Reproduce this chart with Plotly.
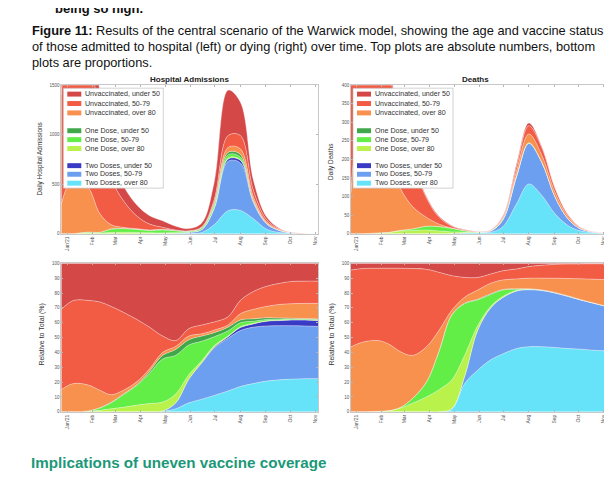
import plotly.graph_objects as go

W, H = 612, 480

# ---------------- data ----------------
DATES = ["2020-12-25", "2021-01-09", "2021-01-27", "2021-02-10", "2021-02-24",
         "2021-03-11", "2021-03-28", "2021-04-12", "2021-04-28", "2021-05-14",
         "2021-05-30", "2021-06-15", "2021-06-30", "2021-07-17", "2021-08-01",
         "2021-08-17", "2021-09-02", "2021-09-18", "2021-10-03", "2021-10-19",
         "2021-11-04"]

MONTH_TICKS = ["2021-01-01", "2021-02-01", "2021-03-01", "2021-04-01", "2021-05-01",
               "2021-06-01", "2021-07-01", "2021-08-01", "2021-09-01", "2021-10-01",
               "2021-11-01"]
MONTH_LABELS = ["Jan'21", "Feb", "Mar", "Apr", "May", "Jun", "Jul", "Aug", "Sep", "Oct", "Nov"]

# stacking order, bottom -> top
SERIES_NAMES = ["Two Doses, over 80", "Two Doses, 50-79", "Two Doses, under 50",
                "One Dose, over 80", "One Dose, 50-79", "One Dose, under 50",
                "Unvaccinated, over 80", "Unvaccinated, 50-79", "Unvaccinated, under 50"]
SERIES_COLORS = ["#66e3f9", "#6c9ff0", "#3a3bc4",
                 "#b9f24a", "#63ee47", "#40a84a",
                 "#f7914d", "#f25c45", "#d54848"]

# Daily hospital admissions (absolute)
hosp_two_o80 = [0, 0, 0, 0, 0, 0, 0, 0, 0.5, 1.5, 3, 12, 90, 232, 235, 150, 45, 11.4, 3.1, 0.9, 0.22]
hosp_two_5079 = [0, 0, 0, 0, 0, 0, 0, 0, 0.3, 3, 10, 30, 163, 500, 480, 160, 53, 19.3, 5, 1.4, 0.35]
hosp_two_u50 = [0, 0, 0, 0, 0, 0, 0, 0, 0, 0, 0, 0.2, 3, 21, 26, 12, 5.5, 1.9, 0.5, 0.16, 0.04]
hosp_one_o80 = [0, 0, 8, 5, 12, 14, 12, 8, 7, 5, 1.5, 1.5, 5, 10, 7, 2, 0.5, 0.2, 0.05, 0, 0]
hosp_one_5079 = [0, 0, 8, 8, 33, 36, 30, 24, 30, 19, 9, 14, 30, 33, 26, 6, 1.5, 0.3, 0.05, 0, 0]
hosp_one_u50 = [0, 0, 0, 1, 3, 3, 2, 2, 3, 3, 2, 4, 15, 25, 26, 8, 2, 0.4, 0.1, 0, 0]
hosp_unv_o80 = [300, 570, 450, 190, 42, 10, 5, 3, 3, 1.5, 1, 1.7, 9, 50, 57, 35, 13, 4.8, 1.4, 0.4, 0.1]
hosp_unv_5079 = [1100, 1680, 1480, 860, 470, 270, 125, 60, 20, 3, 2.5, 6.6, 29, 120, 135, 65, 23, 7.5, 2.1, 0.6, 0.15]
hosp_unv_u50 = [600, 750, 650, 380, 240, 150, 110, 85, 66, 39, 22, 40, 176, 459, 338, 102, 26.5, 7.2, 1.7, 0.5, 0.12]

# Daily deaths (absolute)
deaths_two_o80 = [0, 0, 0, 0, 0, 0, 0, 0, 0.3, 2.1, 1.7, 3.5, 18.7, 81, 134, 103, 54, 22.2, 7.6, 2.5, 0.41]
deaths_two_5079 = [0, 0, 0, 0, 0, 0, 0, 0, 0.1, 0.55, 1.6, 3.5, 18.2, 74, 109, 89, 46, 18.3, 6, 1.9, 0.3]
deaths_two_u50 = [0, 0, 0, 0, 0, 0, 0, 0, 0, 0, 0, 0, 0, 0, 0.3, 0.2, 0.1, 0.05, 0.02, 0, 0]
deaths_one_o80 = [0, 0, 2, 3, 7.5, 8, 10, 7, 4.3, 1.5, 0.2, 0.1, 0.3, 0.8, 0.6, 0.2, 0.1, 0.05, 0.02, 0, 0]
deaths_one_5079 = [0, 0, 0, 0.5, 1.5, 4.5, 10, 12.1, 9.6, 3.8, 1.05, 0.8, 2.1, 1.5, 0.6, 0.2, 0.1, 0.05, 0.02, 0, 0]
deaths_one_u50 = [0, 0, 0, 0, 0, 0.2, 0.2, 0.15, 0.07, 0.05, 0.02, 0.05, 0.2, 0.4, 0.3, 0.2, 0.1, 0.05, 0.02, 0, 0]
deaths_unv_o80 = [110, 305, 286, 200, 112, 60, 23.6, 6.8, 0.7, 0.45, 0.37, 0.7, 3.1, 12.7, 24, 18.6, 12, 6.1, 2.5, 0.95, 0.18]
deaths_unv_5079 = [320, 322, 292, 232, 169, 120, 52.2, 19, 5.1, 1.45, 0.5, 0.6, 3.0, 12.7, 22, 20.4, 11.6, 5, 1.8, 0.62, 0.11]
deaths_unv_u50 = [40, 23, 20, 15, 10, 7, 4, 2.9, 1.8, 1.05, 0.57, 0.7, 2.4, 7.2, 7.2, 3.1, 0.9, 0.26, 0.07, 0.02, 0]

# Hospital admissions, share of total (%)
hosp_pct_two_o80 = [0, 0, 0, 0, 0, 0, 0, 0, 0.3, 2, 6, 8.5, 11, 14, 17, 19, 20.7, 21.5, 22, 22.3, 22.3]
hosp_pct_two_5079 = [0, 0, 0, 0, 0, 0, 0, 0, 0.2, 4, 16, 24.5, 32, 35.5, 37.7, 38, 37.1, 36.5, 36, 35.5, 35.2]
hosp_pct_two_u50 = [0, 0, 0, 0, 0, 0, 0, 0, 0, 0, 0, 0.2, 0.5, 1, 2, 2.2, 3.2, 3.5, 3.8, 4, 4]
hosp_pct_one_o80 = [0, 0, 0.3, 1, 2, 3, 4.5, 5.5, 6, 6, 3, 1.3, 1, 0.5, 0.5, 0.4, 0.3, 0.3, 0.2, 0.2, 0.3]
hosp_pct_one_5079 = [0, 0, 0.3, 1.5, 4, 8.5, 13.5, 20.5, 29, 26, 20, 13, 6, 3.5, 2.8, 1.4, 0.9, 0.6, 0.4, 0.3, 0.3]
hosp_pct_one_u50 = [0, 0, 0, 0.2, 0.4, 0.5, 0.6, 1.2, 2.5, 4, 3.5, 3.5, 2.8, 2.5, 1.8, 1.6, 1.2, 0.8, 0.6, 0.5, 0.4]
hosp_pct_unv_o80 = [15, 19, 17.4, 11.8, 5.1, 2.5, 1.9, 1.8, 2, 2, 2.5, 1.5, 1.7, 1.5, 4.2, 6.4, 7.6, 9.1, 9.8, 10.2, 10.5]
hosp_pct_unv_5079 = [54, 56, 57, 59.5, 59.5, 52.5, 41.5, 28, 11, 4, 5, 6, 5.5, 5.5, 9, 12, 13.5, 14.2, 15, 15, 15]
hosp_pct_unv_u50 = [31, 25, 25, 26, 29, 33, 38, 43, 49, 52, 44, 41.5, 39.5, 36, 25, 19, 15.5, 13.5, 12.2, 12, 12]

# Deaths, share of total (%)
deaths_pct_two_o80 = [0, 0, 0, 0, 0, 0, 0, 0, 1.5, 19, 28, 35, 39, 42.6, 43.8, 43.8, 43.3, 42.6, 42.2, 41.5, 41]
deaths_pct_two_5079 = [0, 0, 0, 0, 0, 0, 0, 0, 0.5, 5, 27, 35, 38, 38.8, 38.4, 37.9, 36.7, 35.1, 33.2, 31.7, 30]
deaths_pct_two_u50 = [0, 0, 0, 0, 0, 0, 0, 0, 0, 0, 0, 0, 0, 0, 0.1, 0.1, 0.1, 0.1, 0.1, 0.1, 0.1]
deaths_pct_one_o80 = [0, 0, 0.3, 0.7, 2.5, 5.8, 10, 14.7, 19.4, 14, 3, 1, 0.7, 0.4, 0.2, 0.1, 0.1, 0.1, 0.1, 0, 0]
deaths_pct_one_5079 = [0, 0, 0, 0.1, 0.5, 3.2, 10, 25.3, 43.6, 34.8, 17.4, 8, 4.3, 0.8, 0.2, 0.1, 0.1, 0.1, 0, 0.1, 0.1]
deaths_pct_one_u50 = [0, 0, 0, 0, 0, 0.1, 0.2, 0.3, 0.3, 0.4, 0.4, 0.5, 0.4, 0.2, 0.1, 0.1, 0.1, 0.1, 0.1, 0, 0]
deaths_pct_unv_o80 = [43.8, 47, 47.7, 44.7, 37.4, 28.9, 23.6, 14.2, 3, 4, 6.2, 7.1, 6.4, 6.7, 7.2, 7.9, 9.6, 11.7, 13.9, 15.9, 17.8]
deaths_pct_unv_5079 = [51.7, 49.5, 48.7, 51.3, 56.3, 58.5, 52.2, 39.5, 23.4, 13.3, 8.5, 6.2, 6.2, 6.7, 7.8, 8.7, 9.3, 9.7, 10, 10.4, 10.7]
deaths_pct_unv_u50 = [4.5, 3.5, 3.3, 3.3, 3.3, 3.5, 4, 6, 8.3, 9.5, 9.5, 7.2, 5, 3.8, 2.2, 1.3, 0.7, 0.5, 0.4, 0.3, 0.3]

PANELS = [
    ("x", "y", "hosp", [hosp_two_o80, hosp_two_5079, hosp_two_u50, hosp_one_o80, hosp_one_5079,
                         hosp_one_u50, hosp_unv_o80, hosp_unv_5079, hosp_unv_u50], None),
    ("x2", "y2", "deaths", [deaths_two_o80, deaths_two_5079, deaths_two_u50, deaths_one_o80,
                             deaths_one_5079, deaths_one_u50, deaths_unv_o80, deaths_unv_5079,
                             deaths_unv_u50], None),
    ("x3", "y3", "hosp_pct", [hosp_pct_two_o80, hosp_pct_two_5079, hosp_pct_two_u50, hosp_pct_one_o80,
                               hosp_pct_one_5079, hosp_pct_one_u50, hosp_pct_unv_o80,
                               hosp_pct_unv_5079, hosp_pct_unv_u50], "percent"),
    ("x4", "y4", "deaths_pct", [deaths_pct_two_o80, deaths_pct_two_5079, deaths_pct_two_u50,
                                 deaths_pct_one_o80, deaths_pct_one_5079, deaths_pct_one_u50,
                                 deaths_pct_unv_o80, deaths_pct_unv_5079, deaths_pct_unv_u50], "percent"),
]

# ---------------- figure ----------------
fig = go.Figure()
for xa, ya, grp, series, norm in PANELS:
    for i, (name, color, vals) in enumerate(zip(SERIES_NAMES, SERIES_COLORS, series)):
        kw = {}
        if i == 0 and norm:
            kw["groupnorm"] = norm
        fig.add_trace(go.Scatter(
            x=DATES, y=vals, name=name, xaxis=xa, yaxis=ya, stackgroup=grp,
            mode="lines", fillcolor=color, showlegend=False,
            line=dict(width=0.7, color="rgba(255,255,255,0.55)", shape="spline", smoothing=1.0),
            hoverinfo="skip", **kw))


def px_x(v):
    return v / W


def px_y(v):
    return 1 - v / H


BOX = {  # pixel boxes of the four plot areas: left, right, top, bottom
    "tl": (53.3, 310, 76, 226),
    "tr": (343, 598, 76, 226),
    "bl": (53.3, 310, 256, 406),
    "br": (343, 598, 256, 406),
}


def xaxis(box, anchor):
    l, r, t, b = BOX[box]
    return dict(domain=[px_x(l), px_x(r)], anchor=anchor, type="date",
                range=[DATES[0], DATES[-1]], tickvals=MONTH_TICKS, ticktext=MONTH_LABELS,
                tickangle=-90, tickfont=dict(size=5, color="#555", family="Liberation Sans"),
                ticks="inside", ticklen=2, tickcolor="#b5b5b5", tickwidth=0.6,
                showline=True, linecolor="#c8c8c8", linewidth=0.8, mirror="ticks",
                showgrid=False, zeroline=False)


def yaxis(box, anchor, rng, dtick):
    l, r, t, b = BOX[box]
    return dict(domain=[px_y(b), px_y(t)], anchor=anchor, range=rng, dtick=dtick,
                tickfont=dict(size=4.5, color="#555", family="Liberation Sans"),
                ticks="inside", ticklen=2, tickcolor="#b5b5b5", tickwidth=0.6,
                showline=True, linecolor="#c8c8c8", linewidth=0.8, mirror="ticks",
                showgrid=False, zeroline=False)


shapes = []
annotations = []

# legends (top panels)
LEG_ROWS = [6, 15.5, 25, 43, 52, 61, 78.3, 87, 96]
for box in ("tl", "tr"):
    l, r, t, b = BOX[box]
    bx0, by0 = l + 2, t + 3
    shapes.append(dict(type="rect", xref="paper", yref="paper",
                       x0=px_x(bx0), x1=px_x(bx0 + 100), y0=px_y(by0 + 101), y1=px_y(by0),
                       fillcolor="white", line=dict(color="#b4b4b4", width=0.6), layer="above"))
    legend_order = list(zip(SERIES_NAMES, SERIES_COLORS))[::-1]
    for (name, color), dy in zip(legend_order, LEG_ROWS):
        cy = by0 + dy
        shapes.append(dict(type="rect", xref="paper", yref="paper",
                           x0=px_x(bx0 + 4), x1=px_x(bx0 + 18),
                           y0=px_y(cy + 2.5), y1=px_y(cy - 2.5),
                           fillcolor=color, line=dict(width=0), layer="above"))
        annotations.append(dict(xref="paper", yref="paper", x=px_x(bx0 + 20), y=px_y(cy),
                                xanchor="left", yanchor="middle", showarrow=False, text=name,
                                font=dict(size=7.1, color="#333", family="Liberation Sans")))

# panel titles
annotations.append(dict(xref="paper", yref="paper", x=px_x(181.5), y=px_y(70.5), showarrow=False,
                        text="<b>Hospital Admissions</b>", xanchor="center", yanchor="middle",
                        font=dict(size=8, color="#222", family="Liberation Sans")))
annotations.append(dict(xref="paper", yref="paper", x=px_x(468), y=px_y(70.5), showarrow=False,
                        text="<b>Deaths</b>", xanchor="center", yanchor="middle",
                        font=dict(size=8, color="#222", family="Liberation Sans")))

# axis titles
for txt, x, y, sz in [("Daily Hospital Admissions", 32, 151, 6.4),
                      ("Daily Deaths", 323.5, 154, 6.4),
                      ("Relative to Total (%)", 34, 328, 7),
                      ("Relative to Total (%)", 324, 328, 7)]:
    annotations.append(dict(xref="paper", yref="paper", x=px_x(x), y=px_y(y), showarrow=False,
                            text=txt, textangle=-90, xanchor="center", yanchor="middle",
                            font=dict(size=sz, color="#333", family="Liberation Sans")))

# document text around the figure
annotations.append(dict(xref="paper", yref="paper", x=px_x(45), y=px_y(-2), showarrow=False,
                        text="<b>being so high.</b>", xanchor="left", yanchor="middle",
                        font=dict(size=13, color="#111", family="Liberation Sans")))
CAPTION = ["<b>Figure 11:</b> Results of the central scenario of the Warwick model, showing the age and vaccine status",
           "of those admitted to hospital (left) or dying (right) over time. Top plots are absolute numbers, bottom",
           "plots are proportions."]
for line, y in zip(CAPTION, [21, 37, 53]):
    annotations.append(dict(xref="paper", yref="paper", x=px_x(22), y=px_y(y), showarrow=False,
                            text=line, xanchor="left", yanchor="middle",
                            font=dict(size=12.8, color="#111", family="Liberation Sans")))
annotations.append(dict(xref="paper", yref="paper", x=px_x(21), y=px_y(457), showarrow=False,
                        text="<b>Implications of uneven vaccine coverage</b>", xanchor="left",
                        yanchor="middle",
                        font=dict(size=15.2, color="#1b9878", family="Liberation Sans")))

fig.update_layout(
    width=W, height=H, autosize=False,
    margin=dict(l=0, r=0, t=0, b=0),
    paper_bgcolor="white", plot_bgcolor="white",
    showlegend=False,
    xaxis=xaxis("tl", "y"), yaxis=yaxis("tl", "x", [0, 1500], 500),
    xaxis2=xaxis("tr", "y2"), yaxis2=yaxis("tr", "x2", [0, 400], 50),
    xaxis3=xaxis("bl", "y3"), yaxis3=yaxis("bl", "x3", [0, 100], 10),
    xaxis4=xaxis("br", "y4"), yaxis4=yaxis("br", "x4", [0, 100], 10),
    shapes=shapes, annotations=annotations,
)

fig.write_html("out.html")
